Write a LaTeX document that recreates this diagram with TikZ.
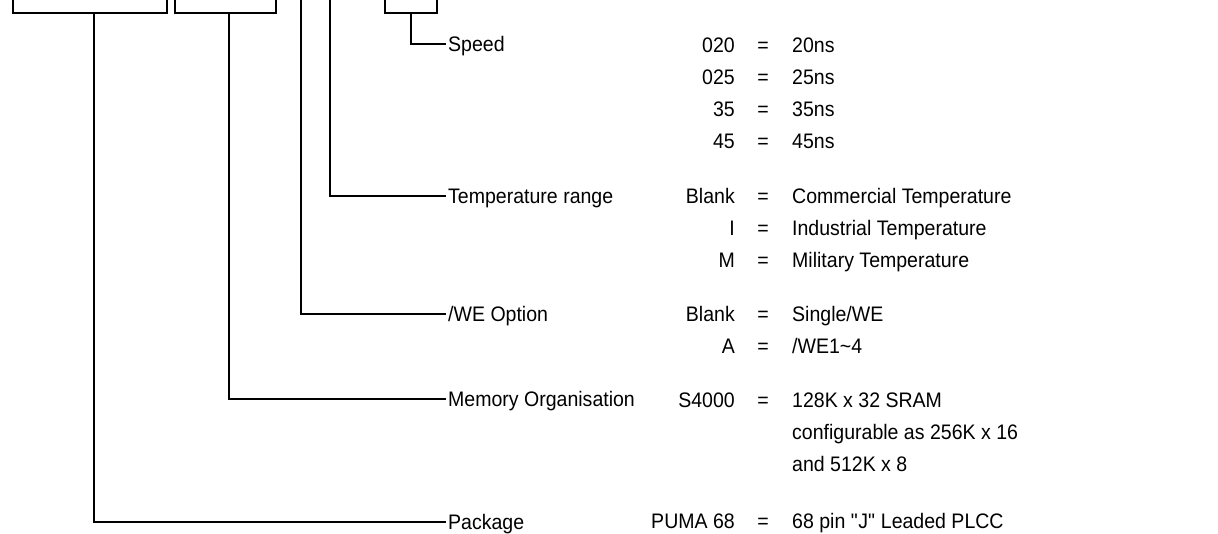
\documentclass[tikz,border=0pt]{standalone}
\usepackage{fontspec}
\setmainfont[FakeStretch=0.93]{Liberation Sans}
\usepackage{tikz}
\usetikzlibrary{positioning}

\begin{document}
\begin{tikzpicture}[x=1pt, y=-1pt,
      font=\fontsize{21}{25}\selectfont,
      txt/.style={inner sep=0pt, text height=15pt, text depth=0pt},
      lbl/.style={txt, anchor=west},
      code/.style={txt, anchor=east},
      eq/.style={txt},
      desc/.style={txt, anchor=west},
      fld/.style={draw, line width=2pt, minimum height=60pt, inner sep=0pt, anchor=south west},
      ln/.style={line width=2pt}]
    \useasboundingbox (0,0) rectangle (1218,534);
    \clip (0,0) rectangle (1218,534);
    % part number fields (cut off at the top)
    \node[fld, minimum width=154pt] (pkgbox) at (12,14) {};
    \node[fld, minimum width=101pt] (orgbox) at (174,14) {};
    \node[fld, minimum width=52pt] (spdbox) at (384,14) {};
    \coordinate (webox) at (301,-2);
    \coordinate (tmpbox) at (330,-2);
    % speed
    \node[lbl] (spd) at (448,44) {Speed};
    \node[code] (spd1) at (735,45) {020};
    \node[eq] (spde1) at (763,45) {=};
    \node[desc] (spdd1) at (792,45) {20ns};
    \node[code, below=16.5pt of spd1.south east, anchor=north east] (spd2) {025};
    \node[eq, below=16.5pt of spde1] (spde2) {=};
    \node[desc, below=16.5pt of spdd1.south west, anchor=north west] (spdd2) {25ns};
    \node[code, below=16.5pt of spd2.south east, anchor=north east] (spd3) {35};
    \node[eq, below=16.5pt of spde2] (spde3) {=};
    \node[desc, below=16.5pt of spdd2.south west, anchor=north west] (spdd3) {35ns};
    \node[code, below=16.5pt of spd3.south east, anchor=north east] (spd4) {45};
    \node[eq, below=16.5pt of spde3] (spde4) {=};
    \node[desc, below=16.5pt of spdd3.south west, anchor=north west] (spdd4) {45ns};
    % temperature range
    \node[lbl] (tmp) at (448,196) {Temperature range};
    \node[code] (tmp1) at (735,196) {Blank};
    \node[eq] (tmpe1) at (763,196) {=};
    \node[desc] (tmpd1) at (792,196) {Commercial Temperature};
    \node[code, below=16.5pt of tmp1.south east, anchor=north east] (tmp2) {I};
    \node[eq, below=16.5pt of tmpe1] (tmpe2) {=};
    \node[desc, below=16.5pt of tmpd1.south west, anchor=north west] (tmpd2) {Industrial Temperature};
    \node[code, below=16.5pt of tmp2.south east, anchor=north east] (tmp3) {M};
    \node[eq, below=16.5pt of tmpe2] (tmpe3) {=};
    \node[desc, below=16.5pt of tmpd2.south west, anchor=north west] (tmpd3) {Military Temperature};
    % /WE option
    \node[lbl] (we) at (448,314) {/WE Option};
    \node[code] (we1) at (735,314) {Blank};
    \node[eq] (wee1) at (763,314) {=};
    \node[desc] (wed1) at (792,314) {Single/WE};
    \node[code, below=16.5pt of we1.south east, anchor=north east] (we2) {A};
    \node[eq, below=16.5pt of wee1] (wee2) {=};
    \node[desc, below=16.5pt of wed1.south west, anchor=north west] (wed2) {/WE1\textasciitilde 4};
    % memory organisation
    \node[lbl] (org) at (448,399) {Memory Organisation};
    \node[code] (org1) at (735,400) {S4000};
    \node[eq] (orge1) at (763,400) {=};
    \node[desc] (orgd1) at (792,400) {128K x 32 SRAM};
    \node[desc, below=16.5pt of orgd1.south west, anchor=north west] (orgd2) {configurable as 256K x 16};
    \node[desc, below=16.5pt of orgd2.south west, anchor=north west] (orgd3) {and 512K x 8};
    % package
    \node[lbl] (pkg) at (448,522) {Package};
    \node[code] (pkg1) at (735,521) {PUMA 68};
    \node[eq] (pkge1) at (763,521) {=};
    \node[desc] (pkgd1) at (792,521) {68 pin \textquotedbl J\textquotedbl\ Leaded PLCC};
    % connectors
    \draw[ln] (spdbox.south) |- ([xshift=-2pt]spd.west);
    \draw[ln] (tmpbox) |- ([xshift=-2pt]tmp.west);
    \draw[ln] (webox) |- ([xshift=-2pt]we.west);
    \draw[ln] ([xshift=3pt]orgbox.south) |- ([xshift=-2pt]org.west);
    \draw[ln] ([xshift=4pt]pkgbox.south) |- ([xshift=-2pt]pkg.west);
  \end{tikzpicture}
\end{document}
